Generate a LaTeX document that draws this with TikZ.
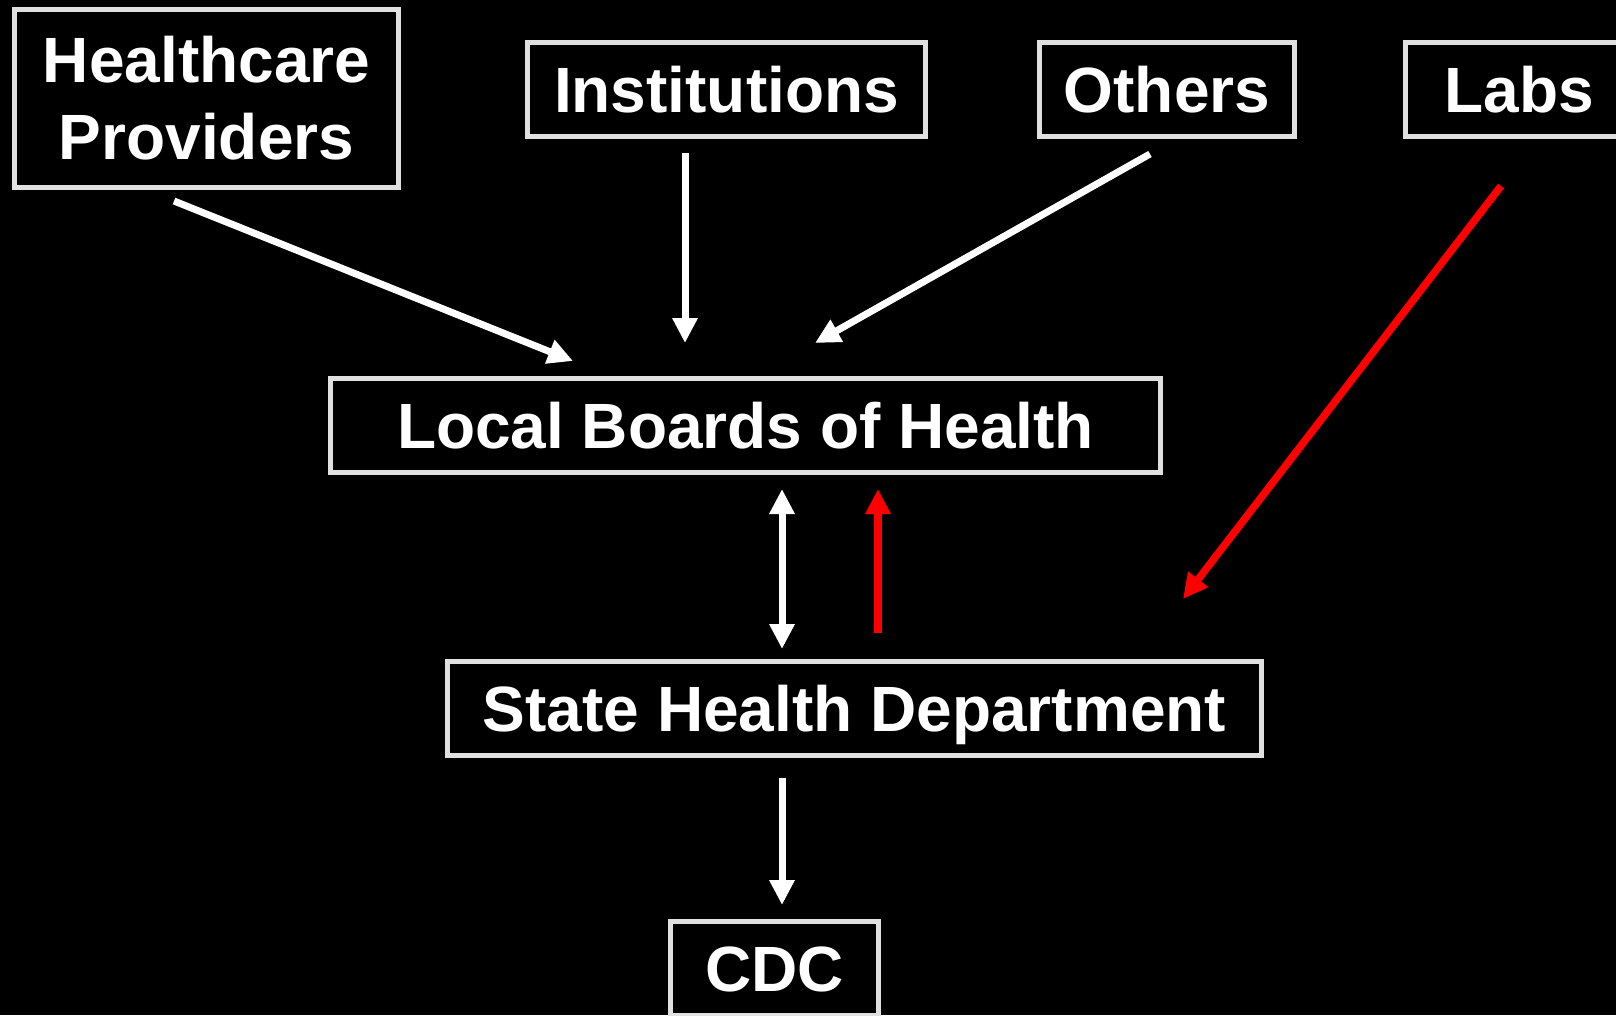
\documentclass[tikz,border=0pt]{standalone}
\usepackage{fontspec}
\setmainfont{Liberation Sans}
\usetikzlibrary{arrows.meta}
\definecolor{boxgray}{HTML}{E0E0E0}
\definecolor{arrred}{HTML}{FF0000}
\begin{document}
\begin{tikzpicture}[x=1pt,y=-1pt,
  box/.style={draw=boxgray, line width=5pt, fill=black, text=white,
    font=\fontsize{64}{77}\selectfont\bfseries, align=center, inner sep=0pt},
  onebox/.style={box, text height=46pt, text depth=0pt},
  arr/.style={draw=white, line width=7pt, -{Triangle[length=25pt,width=24pt]}},
  redarr/.style={draw=arrred, line width=7.5pt, -{Triangle[length=25pt,width=24pt]}},
  dblarr/.style={draw=white, line width=7pt, {Triangle[length=25pt,width=24pt]}-{Triangle[length=25pt,width=24pt]}}]
\fill[black] (0,0) rectangle (1616,1015);
\useasboundingbox (0,0) rectangle (1616,1015);
\clip (0,0) rectangle (1616,1015);
\node[box, minimum width=384pt, minimum height=178pt] (hp) at (206.5,98.5) {Healthcare\\Providers};
\node[onebox, minimum width=398pt, minimum height=94pt] (inst) at (726.5,89.5) {Institutions};
\node[onebox, minimum width=255pt, minimum height=94pt] (oth) at (1167,89.5) {Others};
\node[onebox, minimum width=227pt, minimum height=94pt] (labs) at (1519,89.5) {Labs};
\node[onebox, minimum width=830pt, minimum height=94pt] (lbh) at (745.5,425.5) {Local Boards of Health};
\node[onebox, minimum width=814pt, minimum height=94pt] (shd) at (854.5,708.5) {State Health Department};
\node[onebox, minimum width=208pt, minimum height=94pt] (cdc) at (774.5,968.5) {CDC};
\coordinate (hpS) at (174,201);
\coordinate (hpE) at (573,361);
\coordinate (inS) at (685,153);
\coordinate (inE) at (685,343);
\coordinate (otS) at (1150,154);
\coordinate (otE) at (815,343);
\coordinate (lbS) at (1501,186);
\coordinate (lbE) at (1183,599);
\coordinate (dbT) at (782,489);
\coordinate (dbB) at (782,649);
\coordinate (rdB) at (878,633);
\coordinate (rdT) at (878,489);
\coordinate (cdS) at (782,778);
\coordinate (cdE) at (782,905);
\draw[arr] (hpS) -- (hpE);
\draw[arr] (inS) -- (inE);
\draw[arr] (otS) -- (otE);
\draw[redarr] (lbS) -- (lbE);
\draw[dblarr] (dbT) -- (dbB);
\draw[redarr] (rdB) -- (rdT);
\draw[arr] (cdS) -- (cdE);
\end{tikzpicture}
\end{document}
